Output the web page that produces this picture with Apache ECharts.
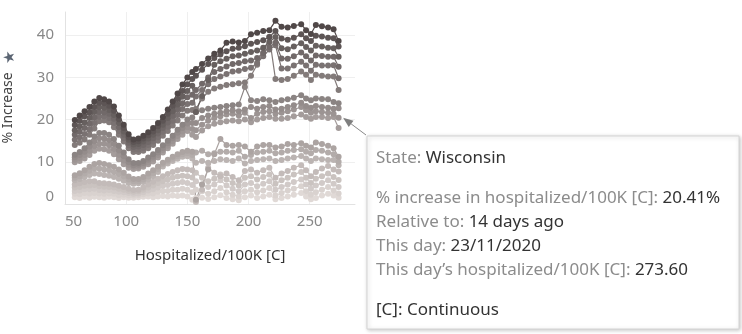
<!DOCTYPE html>
<html><head><meta charset="utf-8">
<script src="https://cdn.jsdelivr.net/npm/echarts@6/dist/echarts.min.js"></script>
<style>html,body{margin:0;padding:0;background:#fff}#c{width:742px;height:334px}</style>
</head><body><div id="c"></div>
<script>
// x: hospitalized per 100K (shared by all lines)
const xHosp = [58,62,66,70,74,78,82,86,90,94,98,102,106,110,114,118,122,126,130,134,138,142,146,150,154,
  157,162,167,172,177,182,187,192,197,202,207,212,217,222,227,232,237,243,247,251,255,260,265,269.5,273.6];
// % increase lines (top/darkest first)
const pctA1 = [19.9,21,22,23,24.3,25.1,24.8,24.3,23.1,21,18.8,16.5,15.3,15.5,16.2,17,18,19.2,20.6,22.4,24.3,26.2,28.3,30,31.3,
  32,33.2,34.5,35.6,36.4,38.2,38.5,38.3,38.6,40.2,40.6,41,41.2,43.4,42,41.8,42.2,42.6,41.2,40.3,42.4,42.1,41.8,41.4,38.6];
const pctA2 = [18.7,19.7,20.8,21.7,23,24,23.9,23.3,22.1,20.1,18,15.8,14.7,14.9,15.5,16.3,17.2,18.4,19.7,21.4,23.2,24.9,26.8,28.4,29.6,
  30.4,31.8,33.2,34.6,35.4,36.2,36.8,37,37.4,38,38.4,38.8,39.6,41,39.2,38.9,39.4,40.2,39.3,38.6,39.9,39.7,39.4,39.3,37.3];
const pctA3 = [17.5,18.4,19.3,20.4,21.8,22.9,22.8,22.3,21.1,19.2,17.2,15.2,14.1,14.2,14.8,15.5,16.4,17.5,18.8,20.4,22,23.6,25.4,26.8,28,
  21.8,25.6,29.4,33,33.8,34.4,35,35.2,35.6,36,36.4,37,38.4,39.6,36.9,36.7,37.3,38.1,37.2,36.4,37.5,37.3,37,36.9,34.9];
const pctA4 = [16.4,17.1,18,19,20.5,21.8,21.7,21.4,20.2,18.2,16.4,14.5,13.5,13.6,14,14.7,15.6,16.7,18,19.3,20.9,22.4,23.9,25.3,25.9,
  27,28.5,30,31.3,32,32.6,33.2,33.4,33.8,34,34.6,35.8,37.2,38.2,34.5,34.4,35,35.9,35,34,35.2,35.1,34.9,34.9,32.5];
const pctA5 = [15.2,15.8,16.6,17.7,19.2,20.7,20.8,20.4,19.2,17.3,15.6,13.9,12.9,12.9,13.3,14,14.8,15.8,17.1,18.3,19.7,21.1,22.5,23.7,24,
  25.5,27,28.4,29.6,30.2,30.8,31.4,31.6,32,32.3,33.4,35,36.6,37.6,32.1,32.1,32.8,33.7,32.8,31.6,33,32.8,32.8,32.9,29.8];
const pctA6 = [14,14.5,15.3,16.4,17.9,19.6,19.8,19.4,18.2,16.4,14.8,13.2,12.3,12.3,12.6,13.2,14,15,16.2,17.3,18.6,19.8,21,22.1,22.3,
  22.5,25,26.6,27.4,27.8,28.2,28.4,28.6,28.8,30.4,33,35.8,39.6,29.6,29.4,29.6,30.4,31.4,30.6,29.4,30.6,30.4,30.2,30.2,27];
const pctB1 = [11.7,12.3,13.2,14.6,16,16.8,16.8,16.4,15.4,13.8,12.2,10.6,9.7,9.7,10.2,11,11.8,12.8,13.9,15,16.2,17.6,18.8,20,20.5,
  21.8,22.2,22.6,22.8,23,23.2,23.4,23.6,27.7,24.6,24.4,24.8,24.6,24.2,24.6,24.8,25.2,25.8,25,24.6,25,24.9,24.8,24.2,23.9];
const pctB2 = [11.1,11.6,12.4,13.6,14.9,15.6,15.5,15.1,14.2,12.7,11.3,9.9,9.2,9.3,9.7,10.5,11.2,12.2,13.3,14.4,15.6,16.9,18,19.1,19.2,
  19.2,20.4,21,21.4,21.6,22,22.2,22,22.4,23,22.6,23,23.2,22.4,22.6,23,23.4,24,23.2,22.8,23.2,23,22.8,22.6,22.7];
const pctB3 = [10.5,10.9,11.6,12.6,13.7,14.3,14.3,13.9,13,11.7,10.3,9.3,8.8,8.8,9.3,9.9,10.7,11.6,12.8,13.8,14.9,16.1,17.2,18.2,17.8,
  17.5,18.8,19.8,20.4,20.8,21.2,21.4,21,21.6,20.4,21.4,21.8,22,21.4,21.6,22,22.4,23,22.2,21.6,22,21.8,21.6,21.4,20.41];
const pctB4 = [9.9,10.2,10.8,11.6,12.6,13.1,13,12.6,11.8,10.6,9.4,8.6,8.3,8.4,8.8,9.4,10.1,11,12.2,13.2,14.3,15.4,16.4,17.3,16.4,
  15.9,17.4,18.4,19,19.4,19.6,19.8,19.6,20,19.4,20,20.4,20.6,20.2,20.2,20.4,20.8,21.2,20.6,20.2,20.6,20.6,20.4,20.6,18];
const pctC1 = [6.8,7.3,8,8.8,9.5,9.7,9.5,9.2,8.8,8.2,7.4,6.5,5.9,5.9,6.4,7.2,8,8.9,9.8,10.5,11.2,11.8,12.3,12.6,12.4,
  1,4.6,8.2,11.8,15.4,14,13.8,14,13.6,12.4,13.6,14,14,13.4,13.6,14.2,14,14.4,13.8,13.4,14.6,14.2,13.8,13.2,11.2];
const pctC2 = [6.2,6.6,7.2,7.9,8.4,8.4,8.2,8,7.6,7.1,6.5,5.8,5.4,5.4,5.8,6.5,7.3,8.3,9.4,10.1,10.7,11.3,11.8,12,11.6,
  12.2,12.6,11.8,12,12.4,12.4,12.2,12.6,11.2,11.6,12.2,12.4,12.6,12,12.2,12.6,12.8,13,12.4,12,12.8,12.6,12.2,11.8,10];
const pctC3 = [5.6,5.9,6.4,6.9,7.2,7.1,6.9,6.7,6.4,6,5.5,5,4.8,4.9,5.2,5.8,6.6,7.6,8.9,9.6,10.2,10.7,11.2,11.3,10.8,
  9.8,10.2,9.8,10.2,10.6,10.4,10.2,10.8,9.6,10.2,10.4,10.6,10.8,10.2,10.4,10.8,11,11.4,10.8,10.2,10.8,10.6,10.4,10.4,9.2];
const pctD1 = [4.6,4.9,5.2,5.4,5.4,5,4.9,4.8,4.6,4.3,4,3.6,3.3,3.4,3.9,4.6,5.3,6,6.6,7.1,7.6,8,8.3,8.2,8,
  0.5,3.4,8.6,7.4,6.6,7.2,6.4,5.6,7.8,8.2,7.4,8,8.6,6.2,7.2,7.8,8.6,9.2,8,6.6,7.6,8.4,9,8.2,7.7];
const pctD2 = [3.9,4,4.3,4.4,4.5,4.2,4.1,4,3.9,3.6,3.4,3.1,2.9,3,3.4,3.9,4.4,5,5.4,5.8,6.2,6.5,6.7,6.6,6.3,
  7.4,6.2,5.4,6,7,5.8,5,4.4,6.2,6.6,5.8,6.4,7,4.8,5.6,6.2,7,7.6,6.2,5,6,6.6,7.2,6.4,5.7];
const pctD3 = [3.1,3.2,3.5,3.5,3.6,3.3,3.2,3.3,3.1,2.9,2.8,2.6,2.4,2.5,2.8,3.2,3.5,3.9,4.3,4.5,4.8,5,5.2,5,4.5,
  5.4,4.6,4,4.6,5.6,4.4,3.6,3,4.6,5,4.2,4.8,5.4,3.4,4,4.6,5.2,5.8,4.6,3.6,4.4,5,5.6,4.8,4];
const pctD4 = [2.4,2.3,2.6,2.5,2.6,2.5,2.4,2.5,2.4,2.1,2.2,2,2,2.1,2.3,2.5,2.5,2.9,3.1,3.1,3.4,3.4,3.6,3.4,2.8,
  3.4,3,2.4,3,3.8,2.8,2.2,1.8,3,3.4,2.8,3.2,3.8,2,2.6,3.2,3.6,4.2,3,2.2,2.8,3.4,4,3.2,2.5];
const pctD5 = [1.6,1.4,1.7,1.5,1.7,1.6,1.5,1.7,1.6,1.4,1.6,1.5,1.5,1.6,1.7,1.8,1.6,1.8,1.9,1.8,2,1.9,2,1.8,1,
  1.4,1.5,1.2,1.6,2.1,1.4,1.1,0.9,1.6,2,1.4,1.8,2.2,1.1,1.4,1.8,2.2,2.6,1.8,1.1,1.4,2,2.4,2,1.5];
const xTicks = [50,100,150,200,250];
const yTicks = [0,10,20,30,40];

const lines = [pctA1,pctA2,pctA3,pctA4,pctA5,pctA6,pctB1,pctB2,pctB3,pctB4,pctC1,pctC2,pctC3,pctD1,pctD2,pctD3,pctD4,pctD5];
const dark = [80,72,72], light = [224,217,214];
function col(i){const t=Math.pow(i/(lines.length-1),0.85);const c=dark.map((d,k)=>Math.round(d+(light[k]-d)*t));return 'rgb('+c.join(',')+')';}

const FONT = '"Noto Sans", "Open Sans", sans-serif';
const chart = echarts.init(document.getElementById('c'), null, {renderer:'canvas'});
const series = [];
for (let i = lines.length-1; i >= 0; i--) {
  const ys = lines[i];
  series.push({
    type:'line', data: xHosp.map((x,j)=>[x, ys[j]]),
    symbol:'circle', symbolSize:6, showAllSymbol:true,
    itemStyle:{color:col(i)}, lineStyle:{color:col(i), width:1.2},
    emphasis:{disabled:true}, silent:true, animation:false
  });
}
chart.setOption({
  animation:false,
  grid:{left:61, right:387, top:12, bottom:130, containLabel:false},
  xAxis:{type:'value', min:50, max:287, interval:50,
    name:'Hospitalized/100K [C]', nameLocation:'middle', nameGap:44,
    nameTextStyle:{color:'#333', fontSize:15, fontFamily:FONT},
    axisLine:{show:true, lineStyle:{color:'#e2e2e2'}}, axisTick:{show:false},
    axisLabel:{color:'#888', fontSize:15, fontFamily:FONT, margin:10, showMaxLabel:false, alignMinLabel:'left',
      formatter:v=> xTicks.includes(v)? String(v):''},
    splitLine:{show:true, showMaxLine:false, lineStyle:{color:'#efefef'}}},
  yAxis:{type:'value', min:0, max:45.5, interval:10,
    name:'% Increase', nameLocation:'middle', nameGap:50, nameRotate:90,
    nameTextStyle:{color:'#444', fontSize:14, fontFamily:FONT},
    axisLine:{show:true, lineStyle:{color:'#e2e2e2'}}, axisTick:{show:false},
    axisLabel:{color:'#888', fontSize:15, fontFamily:FONT, margin:11, showMaxLabel:false, verticalAlignMinLabel:'bottom',
      formatter:v=> yTicks.includes(v)? String(v):''},
    splitLine:{show:true, showMaxLine:false, lineStyle:{color:'#efefef'}}},
  series: series
});

// tooltip annotation anchored on the Wisconsin point (last point of pctB3)
const last = xHosp.length-1;
const p = chart.convertToPixel({gridIndex:0}, [xHosp[last], pctB3[last]]);
const tip = [p[0]+4.5, p[1]];
const tail = [366, 135];
const dx = tail[0]-tip[0], dy = tail[1]-tip[1], L = Math.hypot(dx,dy);
const ux = dx/L, uy = dy/L, bx = tip[0]+ux*10, by = tip[1]+uy*10;
const TX = 376;
const lbl = {fontFamily:FONT, fontSize:17, fill:'#8c8c8c'};
const val = {fontFamily:FONT, fontSize:17, fill:'#333'};
function row(y, parts){
  return {type:'text', x:TX, y:y, silent:true,
    style:{rich:{l:lbl, v:val}, text:parts.map(q=>'{'+q[0]+'|'+q[1]+'}').join(''),
      fontFamily:FONT, fontSize:17, verticalAlign:'middle', align:'left'}};
}
chart.setOption({graphic:[
  {type:'line', silent:true, shape:{x1:bx, y1:by, x2:tail[0], y2:tail[1]}, style:{stroke:'#888', lineWidth:1}},
  {type:'polygon', silent:true, shape:{points:[tip,[bx-uy*4,by+ux*4],[bx+uy*4,by-ux*4]]}, style:{fill:'#7f7f7f'}},
  {type:'rect', silent:true, shape:{x:367, y:136, width:372, height:193},
    style:{fill:'#fff', stroke:'#d4d4d4', lineWidth:1, shadowBlur:4, shadowColor:'rgba(0,0,0,0.22)', shadowOffsetX:1, shadowOffsetY:1}},
  row(158, [['l','State: '],['v','Wisconsin']]),
  row(198, [['l','% increase in hospitalized/100K [C]: '],['v','20.41%']]),
  row(222, [['l','Relative to: '],['v','14 days ago']]),
  row(246, [['l','This day: '],['v','23/11/2020']]),
  row(270, [['l','This day\u2019s hospitalized/100K [C]: '],['v','273.60']]),
  row(310, [['v','[C]: Continuous']]),
  {type:'text', silent:true, x:10, y:57, rotation:Math.PI/2, style:{text:'\u2605', fontSize:15, fill:'#5b6573', align:'center', verticalAlign:'middle'}}
]});
</script>
</body></html>
